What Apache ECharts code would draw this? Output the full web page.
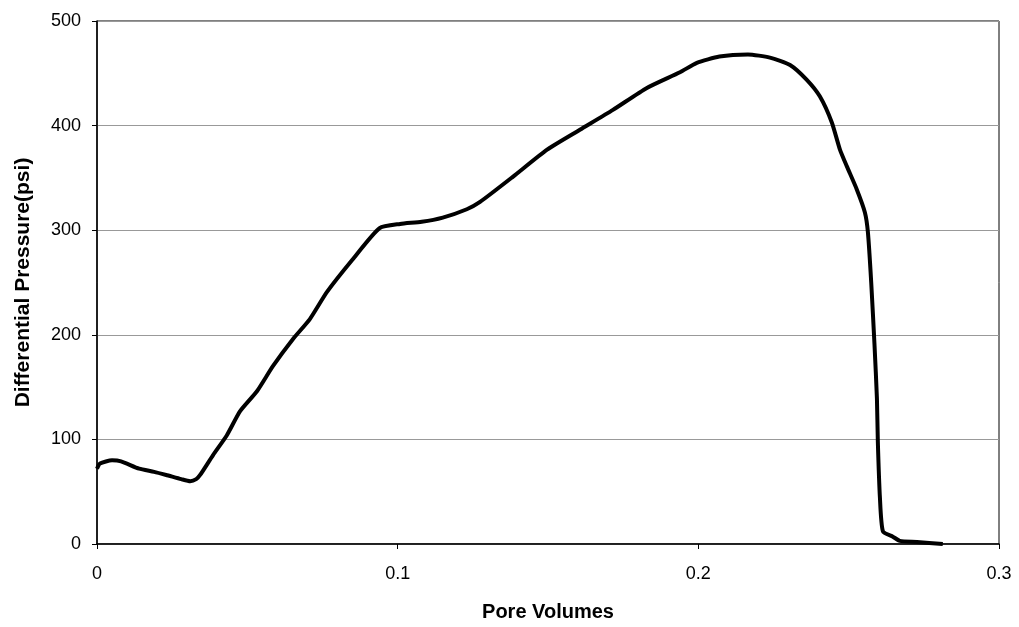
<!DOCTYPE html>
<html>
<head>
<meta charset="utf-8">
<script src="https://cdn.jsdelivr.net/npm/echarts@6/dist/echarts.min.js"></script>
<style>
html,body{margin:0;padding:0;background:#fff;}
#chart{width:1019px;height:627px;}
</style>
</head>
<body>
<div id="chart"></div>
<script>
const poreVolumes = [0, 0.001, 0.005, 0.008, 0.014, 0.019, 0.023, 0.028, 0.031, 0.033, 0.0343, 0.0386, 0.0432, 0.0476, 0.0532, 0.0585, 0.0652, 0.0708, 0.0765, 0.085, 0.094, 0.1008, 0.108, 0.115, 0.123, 0.1274, 0.1383, 0.1497, 0.1606, 0.1716, 0.1829, 0.1939, 0.1995, 0.207, 0.2165, 0.2238, 0.2305, 0.236, 0.2404, 0.2444, 0.2471, 0.2494, 0.2527, 0.2554, 0.2564, 0.2575, 0.2586, 0.2594, 0.2597, 0.2604, 0.2614, 0.2647, 0.267, 0.2727, 0.2813];
const diffPressure = [72, 77, 80, 79, 72, 69, 66, 62, 60, 62, 66, 85, 104, 127, 146, 170, 196, 215, 241, 272, 302, 306, 308, 312, 320, 327, 351, 377, 396, 415, 436, 451, 460, 466, 468, 465, 458, 444, 428, 403, 377, 361, 339, 317, 298, 250, 190, 139, 98, 44, 12, 7, 3, 2, 0];
const xTicks = [0, 0.1, 0.2, 0.3];
const yTicks = [0, 100, 200, 300, 400, 500];

const chart = echarts.init(document.getElementById('chart'), null, {renderer: 'canvas'});
const seriesData = poreVolumes.map((x, i) => [x, diffPressure[i]]);
chart.setOption({
  animation: false,
  backgroundColor: '#ffffff',
  grid: {left: 97, right: 20, top: 21, bottom: 81, show: true, borderColor: '#000', borderWidth: 1},
  xAxis: {
    type: 'value', min: xTicks[0], max: xTicks[xTicks.length - 1], interval: 0.1,
    name: 'Pore Volumes', nameLocation: 'middle', nameGap: 58,
    nameTextStyle: {fontFamily: 'Liberation Sans', fontWeight: 'bold', fontSize: 20, color: '#000'},
    axisLine: {lineStyle: {color: '#000', width: 1.5}},
    axisTick: {show: true, length: 5, lineStyle: {color: '#000'}},
    axisLabel: {margin: 21, fontFamily: 'Liberation Sans', fontSize: 18, color: '#000',
      formatter: v => String(v)},
    splitLine: {show: false}
  },
  yAxis: {
    type: 'value', min: yTicks[0], max: yTicks[yTicks.length - 1], interval: 100,
    name: 'Differential Pressure(psi)', nameLocation: 'middle', nameGap: 63,
    nameTextStyle: {fontFamily: 'Liberation Sans', fontWeight: 'bold', fontSize: 21, color: '#000'},
    axisLine: {show: true, lineStyle: {color: '#000', width: 1.5}},
    axisTick: {show: true, length: 5, lineStyle: {color: '#000'}},
    axisLabel: {margin: 16, fontFamily: 'Liberation Sans', fontSize: 18, color: '#000'},
    splitLine: {show: true, lineStyle: {color: '#999', width: 1}}
  },
  series: [{
    type: 'line', data: seriesData, showSymbol: false, smooth: 0.2,
    lineStyle: {color: '#000', width: 4}
  }]
});
</script>
</body>
</html>
